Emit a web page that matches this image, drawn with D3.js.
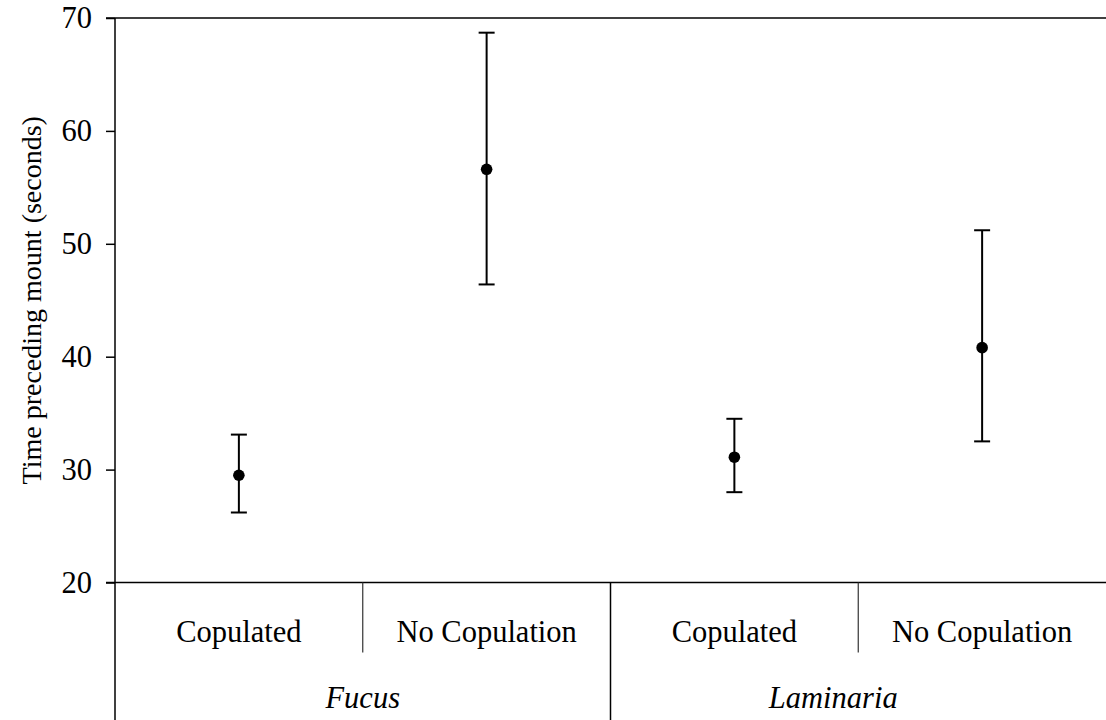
<!DOCTYPE html>
<html>
<head>
<meta charset="utf-8">
<script src="https://cdn.jsdelivr.net/npm/d3@7"></script>
<style>
  html, body { margin: 0; padding: 0; background: #fff; }
  svg { display: block; }
  text { font-family: "Liberation Serif", "Times New Roman", serif; fill: #000; }
</style>
</head>
<body>
<svg id="chart" width="1106" height="720"></svg>
<script>
// Substrates and mating outcomes
const groups = ["Fucus", "Laminaria"];
const outcomes = ["Copulated", "No Copulation"];

// Mean time preceding mount (s) with lower / upper error limits, in group order
const means = [29.5, 56.6, 31.1, 40.8];
const lower = [26.2, 46.4, 28.0, 32.5];
const upper = [33.1, 68.7, 34.5, 51.2];

const yTicks = [20, 30, 40, 50, 60, 70];
const yTitle = "Time preceding mount (seconds)";

const W = 1106, H = 720;
const plotLeft = 115, plotTop = 18, plotBottom = 582.5;
const fontSize = 30.5;

const svg = d3.select("#chart");

// One band per group/outcome combination
const cells = [];
groups.forEach(g => outcomes.forEach(o => cells.push({ group: g, outcome: o })));
cells.forEach((c, i) => { c.key = c.group + "|" + c.outcome; c.mean = means[i]; c.lo = lower[i]; c.hi = upper[i]; });

const x = d3.scaleBand().domain(cells.map(c => c.key)).range([plotLeft, W]).padding(0);
const y = d3.scaleLinear().domain([20, 70]).range([plotBottom, plotTop]);

// Y axis with outward ticks
const yAxis = svg.append("g")
  .attr("transform", `translate(${plotLeft},0)`)
  .call(d3.axisLeft(y).tickValues(yTicks).tickSize(9).tickPadding(14).tickSizeOuter(0));
yAxis.select(".domain").remove();
yAxis.selectAll(".tick line").attr("stroke", "#000").attr("stroke-width", 1.5);
yAxis.selectAll(".tick text").attr("font-size", fontSize).attr("font-family", "Liberation Serif");

// Frame: left spine running to the bottom, top line and baseline
const frame = svg.append("g").attr("stroke", "#000").attr("stroke-width", 1.5).attr("fill", "none");
frame.append("line").attr("x1", plotLeft).attr("x2", plotLeft).attr("y1", plotTop).attr("y2", H);
frame.append("line").attr("x1", plotLeft - 9).attr("x2", W).attr("y1", y(70)).attr("y2", y(70));
frame.append("line").attr("x1", plotLeft - 9).attr("x2", W).attr("y1", y(20)).attr("y2", y(20));

// Category separators below the baseline
const groupBounds = groups.map(g => {
  const ks = cells.filter(c => c.group === g).map(c => c.key);
  return { group: g, x0: x(ks[0]), x1: x(ks[ks.length - 1]) + x.bandwidth() };
});
// Between outcomes within a group (short)
groups.forEach(g => {
  const ks = cells.filter(c => c.group === g).map(c => c.key);
  ks.slice(1).forEach(k => {
    svg.append("line").attr("x1", x(k)).attr("x2", x(k))
      .attr("y1", plotBottom).attr("y2", plotBottom + 70)
      .attr("stroke", "#333").attr("stroke-width", 1.2);
  });
});
// Between groups (full height)
groupBounds.slice(1).forEach(b => {
  svg.append("line").attr("x1", b.x0).attr("x2", b.x0)
    .attr("y1", plotBottom).attr("y2", H)
    .attr("stroke", "#000").attr("stroke-width", 1.5);
});

// Outcome labels
svg.append("g").selectAll("text").data(cells).join("text")
  .attr("x", c => x(c.key) + x.bandwidth() / 2)
  .attr("y", 642)
  .attr("text-anchor", "middle")
  .attr("font-size", fontSize)
  .text(c => c.outcome);

// Group labels in italics
const groupLabelShift = [0, -25];
svg.append("g").selectAll("text").data(groupBounds).join("text")
  .attr("x", (b, i) => (b.x0 + b.x1) / 2 + groupLabelShift[i])
  .attr("y", 708)
  .attr("text-anchor", "middle")
  .attr("font-size", fontSize)
  .attr("font-style", "italic")
  .text(b => b.group);

// Y axis title
svg.append("text")
  .attr("transform", `translate(41,${(plotTop + plotBottom) / 2}) rotate(-90)`)
  .attr("text-anchor", "middle")
  .attr("font-size", 28)
  .text(yTitle);

// Error bars and means
const cap = 8;
const marks = svg.append("g");
const cx = c => x(c.key) + x.bandwidth() / 2;
marks.selectAll("line.stem").data(cells).join("line").attr("class", "stem")
  .attr("x1", cx).attr("x2", cx).attr("y1", c => y(c.lo)).attr("y2", c => y(c.hi))
  .attr("stroke", "#000").attr("stroke-width", 2);
marks.selectAll("line.capHi").data(cells).join("line").attr("class", "capHi")
  .attr("x1", c => cx(c) - cap).attr("x2", c => cx(c) + cap)
  .attr("y1", c => y(c.hi)).attr("y2", c => y(c.hi))
  .attr("stroke", "#000").attr("stroke-width", 2);
marks.selectAll("line.capLo").data(cells).join("line").attr("class", "capLo")
  .attr("x1", c => cx(c) - cap).attr("x2", c => cx(c) + cap)
  .attr("y1", c => y(c.lo)).attr("y2", c => y(c.lo))
  .attr("stroke", "#000").attr("stroke-width", 2);
marks.selectAll("circle").data(cells).join("circle")
  .attr("cx", cx).attr("cy", c => y(c.mean)).attr("r", 5.8)
  .attr("fill", "#000");
</script>
</body>
</html>
